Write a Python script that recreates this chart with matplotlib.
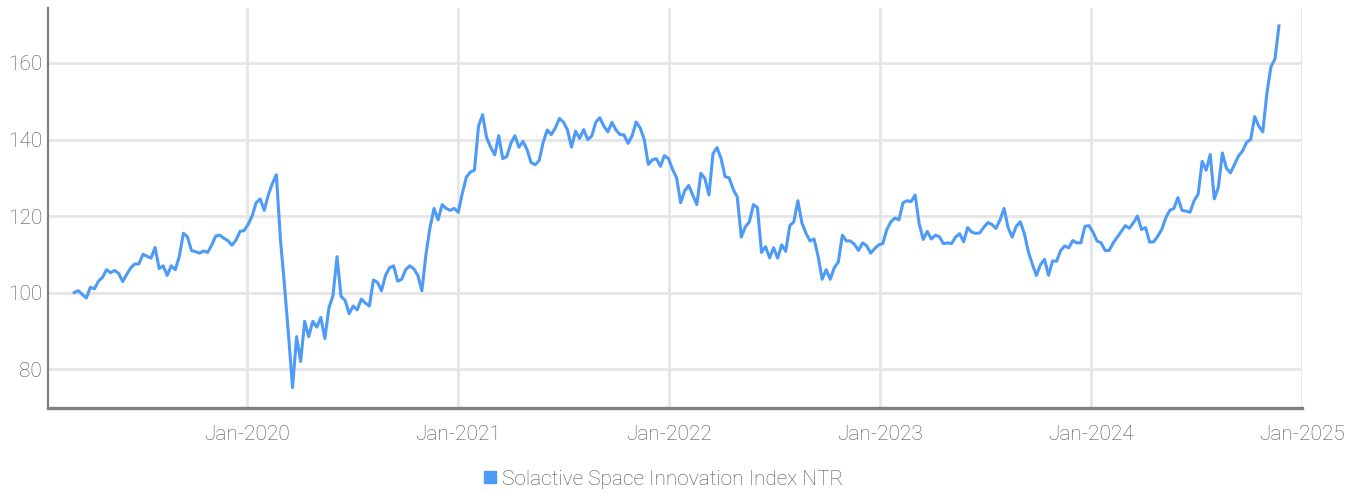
import pandas as pd
import matplotlib
matplotlib.use("Agg")
import matplotlib.pyplot as plt
import matplotlib.dates as mdates
from matplotlib.lines import Line2D

# weekly index levels (Fridays)
start_date = "2019-03-08"
values_2019 = [100.0, 100.5, 99.5, 98.6, 101.4, 101.0, 103.0, 104.0, 106.0, 105.2,
               105.8, 105.0, 102.9, 104.8, 106.5, 107.5, 107.5, 110.0, 109.5, 109.0,
               111.8, 106.3, 107.0, 104.5, 107.0, 106.0, 109.5, 115.5, 114.6, 111.0,
               110.7, 110.3, 110.9, 110.5, 112.4, 114.8, 115.0, 114.2, 113.6, 112.4,
               113.7, 116.0, 116.2]
values_2020 = [117.8, 120.0, 123.5, 124.5, 121.5, 125.5, 128.5, 130.8, 114.0, 102.0,
               89.0, 75.2, 88.5, 82.0, 92.5, 88.5, 92.5, 91.0, 93.5, 88.0,
               96.0, 99.2, 109.4, 99.0, 98.0, 94.5, 96.5, 95.5, 98.3, 97.3,
               96.5, 103.3, 102.7, 100.5, 104.5, 106.5, 107.0, 103.0, 103.5, 106.0,
               107.0, 106.2, 104.5, 100.5, 110.0, 117.0, 122.0, 119.0, 123.0, 122.0,
               121.5, 122.0]
values_2021 = [121.0, 126.0, 130.2, 131.5, 132.0, 143.5, 146.5, 140.5, 138.0, 136.0,
               141.0, 135.0, 135.6, 139.0, 141.0, 138.0, 139.5, 137.4, 134.0, 133.4,
               134.5, 139.3, 142.5, 141.3, 143.0, 145.5, 144.6, 142.5, 138.0, 142.2,
               140.3, 142.6, 140.0, 140.9, 144.5, 145.7, 143.5, 142.0, 144.5, 142.5,
               141.3, 141.2, 139.0, 141.0, 144.6, 143.0, 140.0, 133.5, 134.7, 135.0,
               133.0, 135.8]
values_2022 = [135.0, 132.2, 130.0, 123.5, 126.6, 128.0, 125.5, 123.0, 131.2, 129.8,
               125.5, 136.3, 137.9, 135.0, 130.3, 130.0, 127.0, 125.0, 114.5, 117.2,
               118.5, 123.0, 122.2, 110.5, 112.0, 109.1, 111.7, 109.0, 112.5, 110.8,
               117.5, 118.5, 124.0, 118.2, 115.5, 113.5, 114.0, 109.5, 103.5, 106.0,
               103.5, 106.5, 108.0, 115.0, 113.5, 113.5, 112.6, 111.0, 113.0, 112.3,
               110.3, 111.5]
values_2023 = [112.5, 112.8, 116.5, 118.5, 119.5, 119.0, 123.5, 124.0, 123.8, 125.5,
               118.0, 113.9, 116.0, 114.0, 115.0, 114.6, 112.8, 113.0, 112.8, 114.5,
               115.4, 113.3, 117.0, 115.8, 115.5, 115.6, 117.1, 118.3, 117.8, 116.8,
               119.0, 122.0, 117.0, 114.5, 117.3, 118.5, 115.5, 110.7, 107.4, 104.5,
               107.3, 108.7, 104.5, 108.3, 108.2, 111.0, 112.2, 111.7, 113.6, 113.0,
               113.0, 117.3]
values_2024 = [117.5, 115.8, 113.5, 113.0, 111.0, 111.0, 113.0, 114.5, 116.0, 117.5,
               116.8, 118.3, 120.0, 116.5, 117.0, 113.2, 113.3, 114.7, 116.5, 119.5,
               121.5, 122.0, 124.8, 121.5, 121.3, 121.0, 124.0, 125.7, 134.3, 132.0,
               136.1, 124.5, 127.5, 136.5, 132.5, 131.3, 133.5, 135.7, 137.0, 139.3,
               140.0, 146.0, 143.5, 142.0, 152.0, 159.0, 161.0, 169.7]

series_name = "Solactive Space Innovation Index NTR"
y_ticks = [80, 100, 120, 140, 160]
x_tick_years = [2020, 2021, 2022, 2023, 2024, 2025]

LINE_COLOR = "#4d9af7"
GRID_COLOR = "#e6e6e6"
TEXT_COLOR = "#505050"

plt.rcParams["font.family"] = ["Roboto", "DejaVu Sans"]
plt.rcParams["font.weight"] = "light"

values = (values_2019 + values_2020 + values_2021 +
          values_2022 + values_2023 + values_2024)
dates = pd.date_range(start_date, periods=len(values), freq="7D")

fig = plt.figure(figsize=(13.62, 4.93), dpi=100)
ax = fig.add_axes([0.035, 0.172, 0.921, 0.812])

ax.plot(dates, values, color=LINE_COLOR, lw=2.2, solid_joinstyle="round", zorder=3)

ax.set_xlim(pd.Timestamp("2019-01-21"), pd.Timestamp("2025-01-01"))
ax.set_ylim(69.8, 174.4)
ax.set_yticks(y_ticks)
ax.set_xticks([pd.Timestamp(f"{y}-01-01") for y in x_tick_years])
ax.xaxis.set_major_formatter(mdates.DateFormatter("%b-%Y"))

ax.grid(True, color=GRID_COLOR, lw=2.0, zorder=0)
ax.tick_params(length=0, labelsize=15, colors=TEXT_COLOR)
ax.tick_params(axis="x", pad=12)
ax.tick_params(axis="y", pad=4)

for side in ("top", "right"):
    ax.spines[side].set_visible(False)
ax.spines["left"].set_color("#808080")
ax.spines["left"].set_linewidth(1.6)
ax.spines["bottom"].set_color("#808080")
ax.spines["bottom"].set_linewidth(2.4)

handle = Line2D([], [], color=LINE_COLOR, marker="s", markersize=8.5, linestyle="none")
fig.legend([handle], [series_name], loc="center", bbox_to_anchor=(0.487, 0.028),
           frameon=False, fontsize=15, labelcolor=TEXT_COLOR,
           handlelength=0.6, handletextpad=0.25)

fig.savefig("out.png", dpi=100)
